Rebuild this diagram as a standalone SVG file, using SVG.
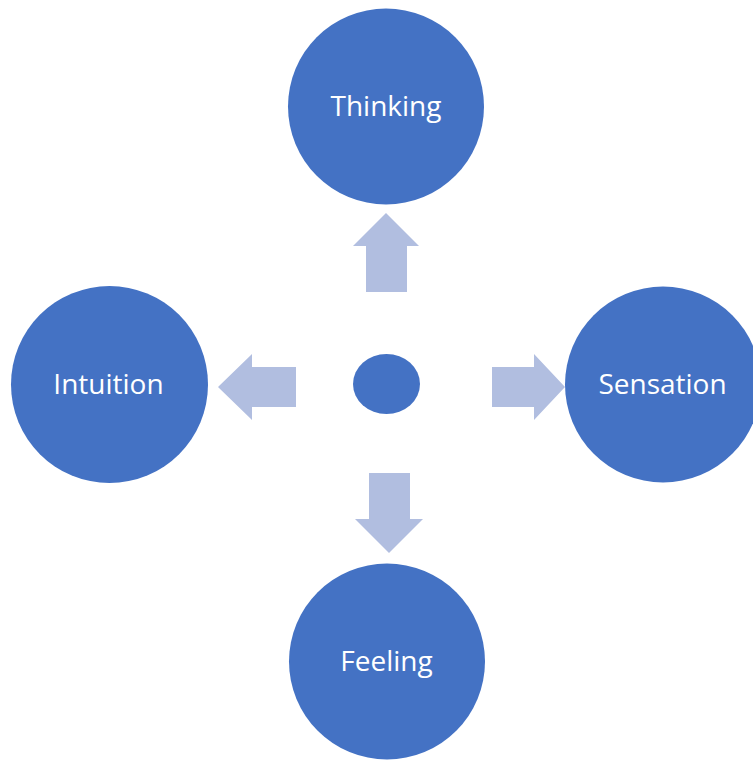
<svg xmlns="http://www.w3.org/2000/svg" width="753" height="760" viewBox="0 0 753 760">
<style>
.node{fill:#4472C4}
.lbl{fill:#FFFFFF;font-family:"Open Sans","Noto Sans",sans-serif;font-size:28px;text-anchor:middle}
.arr{fill:#B1BEE0}
</style>
<rect width="753" height="760" fill="#FFFFFF"/>
<g id="connectors">
<polygon class="arr" points="366,292 366,246 353,246 386,213 419,246 407,246 407,292"/>
<polygon class="arr" points="296,367 252,367 252,354 218,387 252,420 252,407 296,407"/>
<polygon class="arr" points="492,367 534,367 534,354 565,387 534,420 534,407 492,407"/>
<polygon class="arr" points="369,473 410,473 410,519 423,519 389,553 355,519 369,519"/>
</g>
<g id="center"><ellipse class="node" cx="386.5" cy="384" rx="33.5" ry="30"/></g>
<g id="thinking"><circle class="node" cx="386" cy="106.5" r="98"/><text class="lbl" x="386" y="116">Thinking</text></g>
<g id="intuition"><circle class="node" cx="109.5" cy="384.5" r="98.5"/><text class="lbl" x="108.5" y="394">Intuition</text></g>
<g id="sensation"><circle class="node" cx="663" cy="384.5" r="98"/><text class="lbl" x="662.5" y="394">Sensation</text></g>
<g id="feeling"><circle class="node" cx="387" cy="661.5" r="98"/><text class="lbl" x="386.5" y="671">Feeling</text></g>
</svg>
